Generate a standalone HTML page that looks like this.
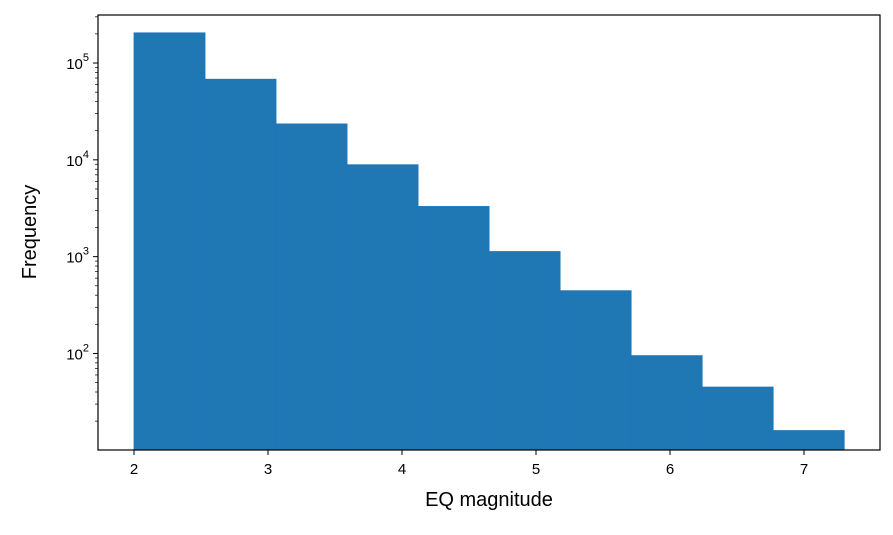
<!DOCTYPE html>
<html><head><meta charset="utf-8"><style>
body{margin:0;background:#fff;}
svg text{font-family:"Liberation Sans","DejaVu Sans",sans-serif;fill:#000;}
</style></head><body>
<svg id="chart" width="893" height="530" xmlns="http://www.w3.org/2000/svg">
<rect width="893" height="530" fill="#fff"/>
<g id="bars"></g>
<g id="axes"></g>
<rect x="98" y="15" width="782" height="435" fill="none" stroke="#000" stroke-width="1.2"/>
<text x="489" y="506" font-size="20" text-anchor="middle">EQ magnitude</text>
<text transform="translate(36,232) rotate(-90)" font-size="20" text-anchor="middle">Frequency</text>
</svg>
<script>
const binEdges=[2.0,2.53,3.06,3.59,4.12,4.65,5.18,5.71,6.24,6.77,7.3];
const counts=[205000,68000,23500,8900,3300,1130,445,95,45,16];
const xTicks=[2,3,4,5,6,7];
const yTickExps=[2,3,4,5];
const NS="http://www.w3.org/2000/svg";
const L=98,R=880,T=15,B=450;
const x=v=>134+(v-2)*134;
const yLogMin=1.003,yLogMax=5.496;
const y=v=>B-(Math.log10(v)-yLogMin)/(yLogMax-yLogMin)*(B-T);
const bars=document.getElementById('bars'),axes=document.getElementById('axes');
function mk(tag,attrs,parent){const e=document.createElementNS(NS,tag);for(const k in attrs)e.setAttribute(k,attrs[k]);parent.appendChild(e);return e;}
counts.forEach((c,i)=>{
  const r=mk('rect',{x:x(binEdges[i]),y:y(c),width:x(binEdges[i+1])-x(binEdges[i]),height:B-y(c),fill:'#1f77b4',stroke:'#1f77b4','stroke-width':0.8},bars);
  
  
});
xTicks.forEach(t=>{
  mk('line',{x1:x(t),x2:x(t),y1:B,y2:B+5,stroke:'#000','stroke-width':1},axes);
  const tx=mk('text',{x:x(t),y:B+24,'font-size':15,'text-anchor':'middle'},axes);
  tx.textContent=t;
  
  
});
for(let e=1;e<=5;e++){for(let m=1;m<10;m++){const v=m*Math.pow(10,e);const yy=y(v);if(yy<T||yy>B)continue;
  const major=m===1;
  mk('line',{x1:L,x2:L-(major?5:3),y1:yy,y2:yy,stroke:'#000','stroke-width':major?1:0.7},axes);}}
yTickExps.forEach(e=>{
  const yy=y(Math.pow(10,e));
  const tx=mk('text',{x:L-9,y:yy+6,'font-size':15,'text-anchor':'end'},axes);
  tx.innerHTML='10<tspan dy="-8" font-size="11">'+e+'</tspan>';
  
  
});
</script>
</body></html>
